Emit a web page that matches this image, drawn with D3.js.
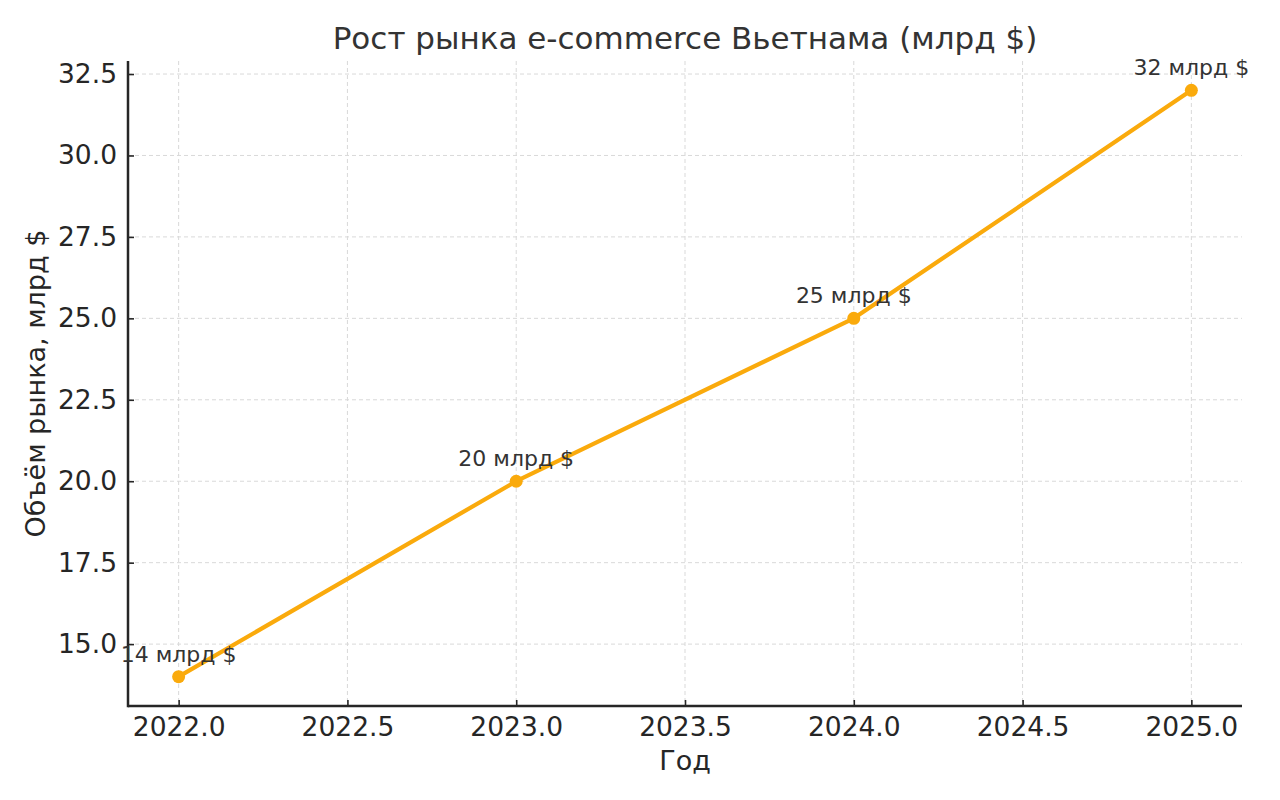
<!DOCTYPE html>
<html><head><meta charset="utf-8">
<script src="https://cdn.jsdelivr.net/npm/d3@7"></script>
<style>
html,body{margin:0;padding:0;background:#fff;}
svg{display:block;font-family:"DejaVu Sans",sans-serif;}
</style></head>
<body><svg id="chart" width="1280" height="800"></svg>
<script>
const years = [2022, 2023, 2024, 2025];
const values = [14, 20, 25, 32];
const pointLabels = ["14 млрд $", "20 млрд $", "25 млрд $", "32 млрд $"];
const xTicks = [2022.0, 2022.5, 2023.0, 2023.5, 2024.0, 2024.5, 2025.0];
const yTicks = [15.0, 17.5, 20.0, 22.5, 25.0, 27.5, 30.0, 32.5];
const titleText = "Рост рынка e-commerce Вьетнама (млрд $)";
const xLabel = "Год";
const yLabel = "Объём рынка, млрд $";

const svg = d3.select("#chart");
const L = 128, R = 1242, T = 61, B = 706;
const x = d3.scaleLinear().domain([2021.85, 2025.15]).range([L, R]);
const y = d3.scaleLinear().domain([13.1, 32.9]).range([B, T]);
const ink = "#262626";

// grid
const g = svg.append("g");
g.selectAll(".vg").data(xTicks).join("line")
  .attr("x1", d => x(d)).attr("x2", d => x(d)).attr("y1", T).attr("y2", B)
  .attr("stroke", "#d9d9d9").attr("stroke-width", 1).attr("stroke-dasharray", "4,3");
g.selectAll(".hg").data(yTicks).join("line")
  .attr("y1", d => y(d)).attr("y2", d => y(d)).attr("x1", L).attr("x2", R)
  .attr("stroke", "#d9d9d9").attr("stroke-width", 1).attr("stroke-dasharray", "4,3");

// axes
const xAxis = d3.axisBottom(x).tickValues(xTicks).tickFormat(d3.format(".1f")).tickSizeInner(-6).tickSizeOuter(0).tickPadding(11);
const yAxis = d3.axisLeft(y).tickValues(yTicks).tickFormat(d3.format(".1f")).tickSizeInner(-6).tickSizeOuter(0).tickPadding(11);
const gx = svg.append("g").attr("transform", `translate(0,${B})`).call(xAxis);
const gy = svg.append("g").attr("transform", `translate(${L},0)`).call(yAxis);
gx.select(".domain").remove(); gy.select(".domain").remove();
[gx, gy].forEach(a => {
  a.selectAll(".tick line").attr("stroke", ink).attr("stroke-width", 1.6);
  a.selectAll(".tick text").attr("fill", ink).style("font-size", "26.5px").style("font-family", "DejaVu Sans");
});
svg.append("line").attr("x1", L).attr("x2", R).attr("y1", B).attr("y2", B).attr("stroke", ink).attr("stroke-width", 2.5);
svg.append("line").attr("x1", L).attr("x2", L).attr("y1", T).attr("y2", B + 1.25).attr("stroke", ink).attr("stroke-width", 2.5);

// line
const color = "#FAAA0C";
const data = years.map((yr, i) => ({yr, v: values[i], lab: pointLabels[i]}));
svg.append("path").datum(data)
  .attr("d", d3.line().x(d => x(d.yr)).y(d => y(d.v)))
  .attr("fill", "none").attr("stroke", color).attr("stroke-width", 4.2).attr("stroke-linejoin", "round");
svg.selectAll(".pt").data(data).join("circle")
  .attr("cx", d => x(d.yr)).attr("cy", d => y(d.v)).attr("r", 6.5).attr("fill", color);
svg.selectAll(".lab").data(data).join("text")
  .attr("x", d => x(d.yr)).attr("y", d => y(d.v) - 15)
  .attr("text-anchor", "middle").attr("fill", "#333").style("font-size", "22px")
  .text(d => d.lab);

// titles
svg.append("text").attr("x", 685).attr("y", 49).attr("text-anchor", "middle")
  .attr("fill", "#333").style("font-size", "31px").text(titleText);
svg.append("text").attr("x", 685).attr("y", 770).attr("text-anchor", "middle")
  .attr("fill", ink).style("font-size", "27px").text(xLabel);
svg.append("text").attr("transform", `translate(45,${(T + B) / 2}) rotate(-90)`).attr("text-anchor", "middle")
  .attr("fill", ink).style("font-size", "27px").text(yLabel);
</script></body></html>
